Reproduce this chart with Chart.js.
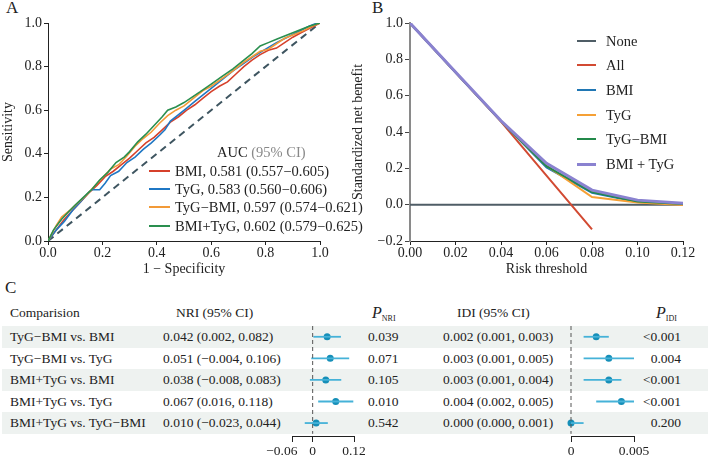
<!DOCTYPE html>
<html>
<head>
<meta charset="utf-8">
<script src="https://cdn.jsdelivr.net/npm/chart.js@4.4.1/dist/chart.umd.min.js"></script>
<style>
  body { margin:0; width:708px; height:457px; position:relative; overflow:hidden; background:#fff;
         font-family:"Liberation Serif", "DejaVu Serif", serif; color:#222; }
  .abs { position:absolute; white-space:nowrap; }
  .lbl { font-size:17px; }
  .t { font-size:14px; height:20px; line-height:20px; }
  .leg { font-size:14.5px; }
  .tb { font-size:13.5px; }
  .band { position:absolute; left:2px; width:706px; background:#eef2f0; }
  .sw { position:absolute; height:2px; }
  sub { font-size:8px; vertical-align:-3px; }
</style>
</head>
<body>
<div class="abs lbl" style="left:6px;top:-2px">A</div>
<div class="abs lbl" style="left:372px;top:-2px">B</div>
<div class="abs lbl" style="left:5px;top:278px">C</div>

<canvas id="roc" class="abs" width="340" height="278" style="left:0;top:0"></canvas>
<canvas id="dca" class="abs" width="358" height="278" style="left:350px;top:0"></canvas>
<div id="legA"></div>
<div id="legB"></div>
<div id="tbl"></div>
<canvas id="nri" class="abs" width="150" height="141" style="left:247px;top:316px"></canvas>
<canvas id="idi" class="abs" width="130" height="141" style="left:540px;top:316px"></canvas>

<script>
// ---- panel A: ROC ----
const bmiFpr = [0,0.03,0.06,0.09,0.12,0.15,0.18,0.21,0.24,0.27,0.3,0.33,0.36,0.39,0.42,0.45,0.48,0.51,0.54,0.57,0.6,0.63,0.66,0.69,0.72,0.75,0.78,0.81,0.84,0.87,0.9,0.93,0.96,1];
const bmiTpr = [0,0.05,0.1,0.14,0.18,0.22,0.255,0.295,0.32,0.35,0.38,0.415,0.45,0.475,0.51,0.545,0.57,0.6,0.625,0.655,0.685,0.71,0.73,0.765,0.8,0.83,0.855,0.875,0.885,0.91,0.935,0.955,0.975,1];
const tygFpr = [0,0.03,0.06,0.09,0.12,0.15,0.16,0.19,0.21,0.23,0.26,0.29,0.32,0.35,0.38,0.41,0.43,0.45,0.48,0.51,0.54,0.57,0.6,0.64,0.68,0.72,0.76,0.8,0.84,0.88,0.92,0.96,0.98,1];
const tygTpr = [0,0.05,0.09,0.14,0.18,0.225,0.235,0.235,0.265,0.3,0.32,0.36,0.385,0.42,0.45,0.485,0.51,0.55,0.58,0.61,0.64,0.67,0.7,0.74,0.78,0.815,0.85,0.88,0.91,0.935,0.96,0.985,0.995,1];
const tygbmiFpr = [0,0.03,0.05,0.08,0.11,0.14,0.17,0.2,0.23,0.26,0.29,0.32,0.35,0.38,0.41,0.44,0.47,0.5,0.54,0.57,0.6,0.64,0.68,0.72,0.75,0.78,0.81,0.84,0.87,0.9,0.94,0.97,1];
const tygbmiTpr = [0,0.07,0.11,0.14,0.175,0.21,0.25,0.29,0.33,0.35,0.39,0.435,0.47,0.5,0.54,0.575,0.6,0.62,0.66,0.69,0.71,0.745,0.78,0.82,0.845,0.87,0.88,0.905,0.93,0.945,0.965,0.985,1];
const bmitygFpr = [0,0.02,0.05,0.08,0.1,0.13,0.16,0.19,0.22,0.25,0.28,0.3,0.33,0.36,0.39,0.42,0.44,0.47,0.5,0.53,0.56,0.6,0.64,0.68,0.72,0.75,0.78,0.81,0.84,0.87,0.9,0.93,0.96,1];
const bmitygTpr = [0,0.05,0.1,0.14,0.165,0.2,0.235,0.28,0.315,0.36,0.385,0.41,0.455,0.49,0.53,0.57,0.6,0.615,0.635,0.66,0.685,0.72,0.755,0.79,0.83,0.86,0.895,0.91,0.925,0.94,0.955,0.97,0.985,1];
const rocNames = ['BMI, 0.581 (0.557\u22120.605)','TyG, 0.583 (0.560\u22120.606)','TyG\u2212BMI, 0.597 (0.574\u22120.621)','BMI+TyG, 0.602 (0.579\u22120.625)'];
const rocColors = ['#d6402b','#1f77c4','#f29a38','#2a8f4f'];

// ---- panel B: decision curve ----
const thresholds = [0,0.02,0.04,0.06,0.08,0.10,0.12];
const nbNone   = [0,0,0,0,0,0,0];
const nbAll    = [1.0,0.728,0.457,0.16,-0.136];
const nbBmi    = [1.0,0.728,0.46,0.205,0.065,0.015,0.004];
const nbTyg    = [1.0,0.728,0.46,0.215,0.042,0.012,-0.002];
const nbTygBmi = [1.0,0.728,0.46,0.212,0.07,0.018,0.004];
const nbBmiTyg = [1.0,0.73,0.462,0.228,0.08,0.025,0.008];
const dcaNames = ['None','All','BMI','TyG','TyG\u2212BMI','BMI + TyG'];
const dcaColors = ['#4f5d66','#d24a32','#2077b4','#f5a035','#23894a','#8a82d0'];

// ---- panel C: NRI / IDI ----
const comparisons = ['TyG\u2212BMI vs. BMI','TyG\u2212BMI vs. TyG','BMI+TyG vs. BMI','BMI+TyG vs. TyG','BMI+TyG vs. TyG\u2212BMI'];
const nriEst = [0.042,0.051,0.038,0.067,0.010];
const nriLo  = [0.002,-0.004,-0.008,0.016,-0.023];
const nriHi  = [0.082,0.106,0.083,0.118,0.044];
const nriP   = ['0.039','0.071','0.105','0.010','0.542'];
const idiEst = [0.002,0.003,0.003,0.004,0.000];
const idiLo  = [0.001,0.001,0.001,0.002,0.000];
const idiHi  = [0.003,0.005,0.004,0.005,0.001];
const idiP   = ['<0.001','0.004','<0.001','<0.001','0.200'];
const nriTicks = [-0.06,0,0.12];
const idiTicks = [0,0.005];

const FONT = {family:'Liberation Serif', size:14};
const INK = '#222';
const minus = s => String(s).replace('-', '\u2212');
const fmt3 = v => v.toFixed(3).replace('-', '\u2212');
const fix = (v, d) => Math.abs(v) < 1e-9 ? (0).toFixed(d) : minus(v.toFixed(d));

Chart.defaults.font.family = 'Liberation Serif';
Chart.defaults.color = INK;
Chart.defaults.animation = false;

function axis(opts) {
  return Object.assign({
    type:'linear',
    grid:{display:true, drawOnChartArea:false, drawTicks:true, tickLength:4, color:INK},
    border:{display:true, color:INK, width:1}
  }, opts);
}
function tk(extra) {
  return Object.assign({color:INK, font:FONT, padding:1, maxRotation:0, minRotation:0, autoSkip:false}, extra);
}
const pts = (xs, ys) => xs.map((x, i) => ({x, y: ys[i]}));

// ROC chart
const rocSets = [[bmiFpr,bmiTpr],[tygFpr,tygTpr],[tygbmiFpr,tygbmiTpr],[bmitygFpr,bmitygTpr]];
new Chart(document.getElementById('roc'), {
  type:'scatter',
  data:{datasets:[
    {data:[{x:0,y:0},{x:1,y:1}], showLine:true, borderColor:'#3e5560', borderWidth:2, borderDash:[7,5], pointRadius:0, order:10},
    ...rocSets.map((s, i) => ({data:pts(s[0], s[1]), showLine:true, borderColor:rocColors[i], borderWidth:1.6, pointRadius:0, order:4-i}))
  ]},
  options:{
    responsive:false,
    layout:{padding:{top:23,right:20,left:0,bottom:0}},
    plugins:{legend:{display:false}, tooltip:{enabled:false}},
    scales:{
      x: axis({min:0, max:1, ticks:tk({padding:0, stepSize:0.2, callback:v=>fix(v,1)}),
               title:{display:true, text:'1 \u2212 Specificity', font:FONT, color:INK, padding:0},
               afterFit:s=>{s.height=37;}}),
      y: axis({min:0, max:1, ticks:tk({padding:2, stepSize:0.2, callback:v=>fix(v,1)}),
               title:{display:true, text:'Sensitivity', font:FONT, color:INK, padding:0},
               afterFit:s=>{s.width=48;}})
    }
  }
});

// decision curve chart
const dcaSeries = [nbNone, nbAll, nbBmi, nbTyg, nbTygBmi, nbBmiTyg];
new Chart(document.getElementById('dca'), {
  type:'scatter',
  data:{datasets: dcaSeries.map((s, i) => ({
    data:pts(thresholds.slice(0, s.length), s), showLine:true, borderColor:dcaColors[i],
    borderWidth: i === 5 ? 3 : 2, pointRadius:0, order: 6 - i
  }))},
  options:{
    responsive:false,
    layout:{padding:{top:23,right:25,left:0,bottom:0}},
    plugins:{legend:{display:false}, tooltip:{enabled:false}},
    scales:{
      x: axis({min:0, max:0.12, ticks:tk({padding:0, stepSize:0.02, callback:v=>fix(v,2)}),
               title:{display:true, text:'Risk threshold', font:FONT, color:INK, padding:0},
               afterFit:s=>{s.height=37;}}),
      y: axis({min:-0.2, max:1, ticks:tk({padding:2, stepSize:0.2, callback:v=>fix(v,1)}),
               grid:{display:true, drawOnChartArea:false, drawTicks:true, tickLength:5, color:'#444'},
               border:{display:true, color:'#8a8a8a', width:2},
               title:{display:true, text:'Standardized net benefit', font:FONT, color:INK, padding:0},
               afterFit:s=>{s.width=60;}})
    }
  }
});

// legends (HTML)
(function(){
  const a = document.getElementById('legA');
  let h = '<div class="abs t leg" style="left:217px;top:142px">AUC <span style="color:#888">(95% CI)</span></div>';
  const ya = [171,189,207,226];
  rocNames.forEach((n, i) => {
    h += `<div class="sw" style="left:149px;width:21px;top:${ya[i]-1}px;background:${rocColors[i]}"></div>`;
    h += `<div class="abs t leg" style="left:175px;top:${ya[i]-10}px">${n}</div>`;
  });
  a.innerHTML = h;
  const b = document.getElementById('legB');
  const yb = [41,65,90,115,139,164];
  h = '';
  dcaNames.forEach((n, i) => {
    h += `<div class="sw" style="left:577px;width:19px;top:${yb[i]-1}px;height:${i===5?3:2}px;background:${dcaColors[i]}"></div>`;
    h += `<div class="abs t leg" style="left:606px;top:${yb[i]-10}px">${n}</div>`;
  });
  b.innerHTML = h;
})();

// table text (HTML)
const rowY = [337,358.5,380,401.5,423];
(function(){
  const el = document.getElementById('tbl');
  let h = '';
  [0,2,4].forEach(i => { h += `<div class="band" style="top:${rowY[i]-11}px;height:21.5px"></div>`; });
  const hy = 303;
  h += `<div class="abs t tb" style="left:10px;top:${hy}px">Comparision</div>`;
  h += `<div class="abs t tb" style="left:176px;top:${hy}px">NRI (95% CI)</div>`;
  h += `<div class="abs t tb" style="left:372px;top:${hy}px"><i style="font-size:16px">P</i><sub>NRI</sub></div>`;
  h += `<div class="abs t tb" style="left:457px;top:${hy}px">IDI (95% CI)</div>`;
  h += `<div class="abs t tb" style="left:656px;top:${hy}px"><i style="font-size:16px">P</i><sub>IDI</sub></div>`;
  comparisons.forEach((c, i) => {
    const top = rowY[i] - 10;
    h += `<div class="abs t tb" style="left:10px;top:${top}px">${c}</div>`;
    h += `<div class="abs t tb" style="left:163px;top:${top}px">${fmt3(nriEst[i])} (${fmt3(nriLo[i])}, ${fmt3(nriHi[i])})</div>`;
    h += `<div class="abs t tb" style="left:368px;top:${top}px">${nriP[i]}</div>`;
    h += `<div class="abs t tb" style="left:443px;top:${top}px">${fmt3(idiEst[i])} (${fmt3(idiLo[i])}, ${fmt3(idiHi[i])})</div>`;
    h += `<div class="abs t tb" style="right:27px;top:${top}px;text-align:right">${idiP[i]}</div>`;
  });
  el.innerHTML = h;
})();

// forest plots
function forest(id, est, lo, hi, min, max, ticks, padL, padR, tickFmt) {
  const sets = [{data:[{x:0,y:0.5},{x:0,y:5.5}], showLine:true, borderColor:'#555', borderWidth:1, borderDash:[4,3], pointRadius:0, clip:false}];
  est.forEach((e, i) => {
    sets.push({data:[{x:lo[i],y:i+1},{x:hi[i],y:i+1}], showLine:true, borderColor:'#45b2d8', borderWidth:1.8, pointRadius:0, clip:false});
  });
  sets.push({data:est.map((e, i) => ({x:e, y:i+1})), pointRadius:3.5, pointBackgroundColor:'#168fb8', pointBorderWidth:0, clip:false});
  new Chart(document.getElementById(id), {
    type:'scatter',
    data:{datasets:sets},
    options:{
      responsive:false,
      layout:{padding:{top:10,left:padL,right:padR,bottom:0}},
      plugins:{legend:{display:false}, tooltip:{enabled:false}},
      scales:{
        x: axis({min, max, ticks:tk({padding:1, font:{family:'Liberation Serif', size:13.5}, callback:tickFmt}),
                 grid:{display:true, drawOnChartArea:false, drawTicks:true, tickLength:6, color:INK},
                 afterBuildTicks:s=>{ s.ticks = ticks.map(v => ({value:v})); },
                 afterFit:s=>{s.height=21;}}),
        y: {type:'linear', min:0.5, max:5.6, reverse:true, display:false}
      }
    }
  });
}
// the leftmost NRI label sits left of its tick in the original, pad it on the right
forest('nri', nriEst, nriLo, nriHi, -0.06, 0.12, nriTicks, 45, 43,
       v => v === 0 ? '0' : (v < 0 ? fix(v,2) + '\u2003\u2002' : fix(v,2)));
forest('idi', idiEst, idiLo, idiHi, 0, 0.005, idiTicks, 31, 36, v => v === 0 ? '0' : v.toFixed(3));
</script>
</body>
</html>
